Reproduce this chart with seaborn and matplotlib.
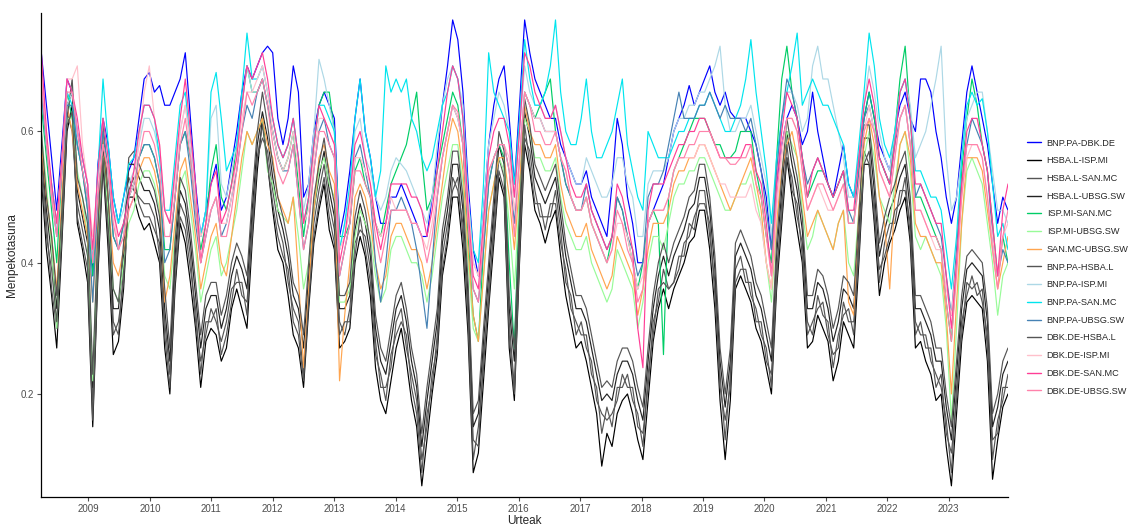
import numpy as np
import pandas as pd
import matplotlib
matplotlib.use("Agg")
import matplotlib.pyplot as plt
import seaborn as sns

# ---- data: monthly dependence values, Apr 2008 .. Dec 2023 (189 points) ----
start_date = "2008-03-27"
end_date = "2023-12-19"

bnp_dbk = [.72,.64,.56,.48,.58,.68,.66,.60,.56,
 .52,.38,.55,.62,.58,.50,.46,.50,.54,.56,.62,.68,
 .69,.66,.67,.64,.64,.66,.68,.72,.62,.52,.44,.48,
 .52,.55,.48,.50,.55,.60,.66,.70,.68,.70,.72,.73,
 .72,.62,.58,.62,.70,.66,.50,.52,.60,.64,.66,.64,
 .62,.44,.48,.54,.62,.68,.60,.56,.50,.46,.46,.50,
 .50,.52,.50,.48,.46,.44,.44,.50,.56,.64,.70,.77,
 .74,.66,.52,.42,.38,.48,.58,.64,.68,.70,.62,.52,
 .64,.77,.72,.68,.66,.64,.62,.62,.58,.56,.54,.52,
 .52,.54,.50,.48,.46,.44,.52,.62,.58,.50,.46,.40,
 .40,.46,.48,.50,.52,.56,.60,.62,.64,.67,.64,.66,
 .68,.70,.66,.64,.66,.63,.62,.62,.62,.60,.58,.54,
 .50,.42,.52,.58,.62,.64,.62,.58,.60,.66,.60,.56,
 .52,.50,.54,.58,.52,.50,.56,.62,.66,.62,.58,.56,
 .54,.60,.64,.66,.62,.60,.68,.68,.66,.60,.56,.50,
 .46,.50,.58,.66,.70,.66,.62,.58,.52,.46,.50,.48]

hsba_isp = [.53,.42,.35,.27,.43,.60,.64,.46,.42,
 .37,.15,.38,.55,.42,.26,.28,.36,.50,.50,.47,.45,
 .46,.43,.40,.27,.20,.36,.46,.43,.37,.30,.21,.28,
 .30,.29,.25,.27,.33,.36,.33,.30,.43,.54,.62,.55,
 .48,.42,.40,.35,.29,.27,.21,.33,.43,.48,.52,.45,
 .42,.27,.28,.30,.40,.44,.41,.35,.24,.19,.17,.22,
 .27,.30,.25,.19,.15,.06,.13,.20,.26,.38,.43,.50,
 .50,.42,.29,.08,.11,.22,.33,.43,.53,.50,.27,.19,
 .40,.58,.54,.48,.46,.43,.46,.48,.41,.35,.31,.27,
 .28,.25,.21,.17,.09,.14,.12,.17,.19,.20,.17,.13,
 .10,.19,.28,.33,.36,.33,.36,.38,.40,.43,.44,.48,
 .48,.42,.33,.19,.10,.19,.36,.38,.36,.34,.30,.28,
 .24,.20,.36,.46,.56,.50,.45,.40,.27,.28,.32,.30,
 .28,.22,.25,.31,.29,.27,.40,.55,.55,.46,.35,.40,
 .43,.45,.48,.50,.43,.27,.28,.25,.23,.19,.20,.12,
 .06,.17,.28,.34,.35,.34,.33,.25,.07,.13,.18,.20]

hsba_san = [.56,.46,.36,.30,.46,.63,.60,.49,.45,
 .41,.19,.42,.58,.46,.31,.29,.39,.53,.51,.50,.49,
 .49,.47,.41,.31,.23,.39,.49,.47,.41,.31,.25,.29,
 .33,.31,.28,.31,.36,.37,.37,.32,.46,.56,.59,.57,
 .51,.46,.43,.37,.33,.31,.23,.36,.46,.51,.55,.49,
 .45,.31,.29,.33,.43,.45,.44,.39,.28,.21,.21,.24,
 .31,.33,.27,.23,.19,.10,.15,.23,.27,.41,.46,.51,
 .53,.44,.33,.13,.12,.26,.34,.46,.56,.53,.31,.21,
 .43,.59,.57,.51,.47,.47,.47,.51,.45,.37,.35,.29,
 .31,.27,.25,.19,.17,.16,.17,.19,.23,.21,.21,.15,
 .14,.21,.31,.34,.39,.36,.37,.41,.41,.46,.45,.51,
 .51,.44,.37,.21,.16,.21,.39,.41,.37,.37,.31,.31,
 .25,.23,.37,.49,.56,.53,.47,.43,.29,.31,.33,.34,
 .29,.26,.27,.34,.31,.31,.41,.57,.55,.49,.37,.43,
 .46,.46,.51,.51,.46,.29,.31,.27,.27,.21,.23,.14,
 .11,.19,.31,.35,.38,.35,.36,.27,.13,.14,.21,.21]

hsba_ubsg = [.58,.48,.41,.33,.47,.64,.66,.51,.47,
 .43,.21,.43,.60,.48,.33,.33,.41,.55,.55,.53,.51,
 .51,.49,.45,.33,.25,.41,.51,.49,.43,.35,.27,.33,
 .35,.35,.30,.33,.38,.41,.39,.36,.48,.58,.63,.59,
 .53,.48,.45,.41,.35,.33,.27,.38,.48,.53,.57,.51,
 .47,.33,.33,.35,.45,.49,.46,.41,.30,.25,.23,.28,
 .33,.35,.31,.25,.21,.12,.19,.25,.31,.43,.48,.55,
 .55,.48,.35,.15,.17,.28,.38,.48,.58,.55,.33,.25,
 .45,.63,.59,.53,.51,.49,.51,.53,.47,.41,.37,.33,
 .33,.31,.27,.23,.19,.20,.19,.23,.25,.25,.23,.19,
 .16,.25,.33,.38,.41,.38,.41,.43,.45,.48,.49,.53,
 .53,.48,.39,.25,.18,.25,.41,.43,.41,.39,.35,.33,
 .29,.25,.41,.51,.60,.55,.51,.45,.33,.33,.37,.36,
 .33,.28,.31,.36,.35,.33,.45,.59,.59,.51,.41,.45,
 .48,.50,.53,.55,.48,.33,.33,.31,.29,.25,.25,.18,
 .13,.23,.33,.39,.40,.39,.38,.31,.15,.18,.23,.25]

isp_san = [.64,.56,.48,.40,.54,.66,.62,.58,.54,
 .48,.38,.50,.60,.54,.44,.42,.46,.50,.52,.56,.58,
 .58,.56,.52,.42,.42,.50,.58,.60,.56,.48,.42,.46,
 .54,.58,.50,.48,.52,.58,.64,.70,.66,.66,.68,.64,
 .60,.56,.54,.56,.60,.52,.44,.50,.58,.64,.66,.66,
 .60,.44,.44,.46,.54,.56,.52,.50,.46,.44,.48,.52,
 .54,.56,.58,.62,.66,.56,.48,.50,.54,.58,.62,.66,
 .64,.58,.44,.32,.28,.42,.52,.56,.58,.56,.40,.27,
 .50,.66,.64,.62,.64,.66,.68,.60,.56,.52,.50,.48,
 .48,.50,.46,.44,.42,.40,.44,.50,.48,.44,.40,.36,
 .40,.46,.48,.46,.26,.50,.54,.56,.58,.60,.62,.62,
 .62,.60,.58,.58,.56,.56,.57,.60,.60,.60,.54,.50,
 .44,.40,.56,.68,.73,.66,.62,.56,.50,.52,.54,.54,
 .52,.50,.52,.54,.46,.46,.54,.62,.66,.62,.56,.54,
 .52,.60,.68,.73,.62,.50,.50,.48,.46,.44,.42,.34,
 .28,.40,.54,.62,.68,.64,.58,.54,.46,.38,.44,.40]

isp_ubsg = [.60,.52,.42,.30,.48,.62,.62,.54,.50,
 .44,.22,.44,.56,.48,.36,.34,.40,.46,.48,.52,.54,
 .54,.52,.48,.38,.36,.44,.52,.54,.48,.42,.34,.38,
 .42,.44,.38,.40,.44,.48,.54,.60,.58,.60,.62,.54,
 .52,.48,.47,.46,.50,.44,.36,.40,.48,.54,.56,.52,
 .50,.34,.34,.36,.44,.48,.46,.44,.38,.34,.36,.42,
 .44,.44,.42,.40,.40,.38,.34,.38,.44,.50,.54,.58,
 .58,.52,.40,.30,.28,.38,.48,.52,.56,.54,.46,.36,
 .50,.62,.60,.56,.56,.54,.54,.56,.50,.46,.44,.42,
 .42,.44,.40,.38,.36,.34,.36,.42,.40,.38,.36,.30,
 .34,.40,.44,.44,.42,.46,.50,.52,.52,.54,.54,.56,
 .56,.54,.52,.50,.48,.48,.50,.52,.52,.54,.50,.46,
 .40,.34,.46,.54,.60,.58,.56,.48,.42,.44,.48,.46,
 .44,.42,.46,.48,.40,.38,.48,.56,.60,.56,.50,.48,
 .46,.52,.58,.60,.54,.44,.42,.44,.42,.40,.38,.30,
 .16,.30,.46,.54,.56,.54,.52,.46,.40,.32,.38,.40]

san_ubsg = [.58,.50,.44,.36,.50,.64,.60,.52,.48,
 .44,.34,.46,.60,.50,.40,.38,.42,.48,.50,.54,.56,
 .56,.54,.50,.34,.38,.46,.54,.56,.50,.44,.36,.40,
 .44,.46,.40,.38,.44,.50,.56,.60,.58,.60,.62,.58,
 .56,.50,.48,.46,.50,.38,.24,.36,.48,.56,.58,.54,
 .52,.22,.32,.40,.50,.52,.50,.46,.40,.36,.38,.44,
 .46,.46,.44,.42,.42,.40,.36,.40,.46,.52,.58,.62,
 .60,.54,.42,.32,.28,.38,.48,.52,.56,.56,.50,.42,
 .52,.64,.60,.58,.58,.56,.56,.58,.52,.48,.46,.44,
 .44,.46,.42,.40,.38,.36,.38,.44,.42,.40,.38,.32,
 .36,.42,.46,.46,.46,.48,.52,.54,.54,.56,.56,.58,
 .58,.56,.54,.52,.50,.48,.50,.52,.54,.56,.52,.48,
 .40,.36,.46,.54,.58,.60,.56,.50,.44,.46,.48,.46,
 .44,.42,.46,.48,.34,.32,.48,.58,.62,.58,.50,.46,
 .36,.50,.58,.60,.56,.46,.44,.44,.42,.40,.40,.32,
 .20,.34,.46,.56,.56,.56,.54,.48,.42,.36,.40,.44]

bnp_hsba = [.60,.50,.44,.35,.48,.62,.68,.53,.50,
 .46,.23,.45,.62,.50,.36,.34,.43,.56,.57,.55,.53,
 .53,.51,.47,.36,.27,.43,.53,.51,.45,.37,.29,.35,
 .37,.37,.32,.35,.40,.43,.41,.38,.50,.60,.66,.61,
 .55,.50,.47,.43,.37,.35,.29,.40,.50,.55,.59,.53,
 .49,.35,.35,.37,.47,.51,.48,.43,.32,.27,.25,.30,
 .35,.37,.33,.27,.23,.14,.21,.27,.33,.45,.50,.57,
 .57,.50,.37,.17,.19,.30,.40,.50,.60,.57,.35,.27,
 .47,.65,.61,.55,.53,.51,.53,.55,.49,.43,.39,.35,
 .35,.33,.29,.25,.21,.22,.21,.25,.27,.27,.25,.21,
 .18,.27,.35,.40,.43,.40,.43,.45,.47,.50,.51,.55,
 .55,.50,.41,.27,.20,.27,.43,.45,.43,.41,.37,.35,
 .31,.27,.43,.53,.62,.57,.53,.47,.35,.35,.39,.38,
 .35,.30,.33,.38,.37,.35,.47,.61,.61,.53,.43,.47,
 .50,.52,.55,.57,.50,.35,.35,.33,.31,.27,.27,.20,
 .15,.25,.35,.41,.42,.41,.40,.33,.17,.20,.25,.27]

bnp_isp = [.66,.58,.52,.45,.54,.64,.66,.60,.56,
 .52,.40,.52,.62,.56,.48,.46,.48,.52,.54,.58,.62,
 .62,.60,.56,.48,.46,.54,.60,.64,.58,.50,.44,.48,
 .62,.64,.52,.50,.54,.58,.64,.70,.66,.66,.68,.64,
 .62,.58,.56,.58,.62,.56,.48,.52,.60,.71,.68,.64,
 .60,.42,.46,.50,.60,.62,.56,.54,.50,.48,.50,.54,
 .56,.55,.54,.52,.50,.48,.46,.50,.58,.64,.68,.70,
 .68,.64,.50,.40,.38,.48,.58,.62,.66,.64,.60,.50,
 .60,.70,.66,.64,.64,.62,.62,.64,.60,.56,.54,.52,
 .52,.56,.54,.52,.50,.50,.52,.56,.56,.52,.50,.44,
 .44,.52,.54,.54,.54,.56,.60,.62,.62,.64,.64,.66,
 .66,.68,.70,.73,.64,.60,.60,.62,.62,.64,.60,.56,
 .52,.44,.54,.62,.66,.66,.64,.60,.62,.70,.73,.68,
 .68,.64,.60,.56,.50,.50,.56,.64,.70,.66,.60,.56,
 .54,.60,.66,.68,.64,.56,.58,.60,.64,.68,.73,.56,
 .48,.50,.56,.62,.64,.66,.66,.60,.54,.48,.48,.46]

bnp_san = [.66,.58,.52,.46,.56,.66,.64,.58,.54,
 .50,.40,.54,.68,.58,.50,.46,.50,.55,.56,.60,.64,
 .64,.62,.56,.48,.48,.56,.64,.66,.58,.50,.44,.48,
 .66,.69,.62,.54,.56,.58,.66,.75,.68,.68,.70,.66,
 .62,.58,.56,.58,.62,.56,.46,.50,.58,.64,.64,.62,
 .60,.42,.46,.52,.62,.68,.60,.56,.50,.54,.70,.66,
 .68,.66,.68,.62,.60,.56,.54,.56,.60,.64,.66,.70,
 .68,.62,.50,.42,.40,.52,.72,.66,.64,.62,.60,.52,
 .62,.74,.68,.64,.64,.66,.70,.77,.66,.60,.58,.58,
 .62,.68,.60,.56,.56,.58,.60,.64,.68,.58,.54,.50,
 .48,.60,.58,.56,.56,.56,.58,.60,.60,.62,.62,.64,
 .64,.66,.64,.62,.60,.60,.62,.64,.68,.74,.66,.60,
 .54,.46,.56,.62,.66,.70,.75,.64,.66,.68,.66,.64,
 .64,.62,.60,.58,.52,.50,.58,.66,.75,.70,.62,.58,
 .56,.60,.66,.68,.62,.54,.54,.52,.50,.50,.48,.42,
 .36,.44,.56,.64,.66,.64,.65,.60,.52,.44,.46,.42]

bnp_ubsg = [.66,.58,.50,.44,.54,.64,.64,.58,.54,
 .48,.34,.50,.60,.54,.44,.42,.46,.50,.52,.56,.58,
 .58,.56,.52,.40,.42,.50,.58,.60,.54,.46,.40,.44,
 .48,.50,.44,.46,.50,.54,.60,.64,.62,.66,.68,.64,
 .60,.56,.54,.54,.58,.50,.42,.46,.54,.60,.62,.58,
 .56,.38,.42,.46,.56,.58,.54,.50,.40,.34,.40,.48,
 .48,.50,.48,.46,.42,.36,.30,.40,.50,.56,.60,.64,
 .62,.58,.46,.36,.34,.42,.52,.56,.58,.58,.54,.46,
 .56,.66,.64,.62,.62,.60,.60,.60,.56,.52,.50,.48,
 .48,.52,.48,.46,.44,.42,.44,.50,.48,.44,.42,.38,
 .40,.50,.52,.52,.54,.58,.62,.66,.62,.62,.62,.64,
 .64,.66,.64,.62,.64,.62,.62,.62,.60,.62,.58,.54,
 .48,.42,.54,.62,.68,.66,.62,.56,.52,.54,.56,.54,
 .52,.50,.52,.54,.48,.46,.54,.62,.64,.60,.56,.54,
 .52,.58,.62,.64,.58,.50,.52,.50,.48,.46,.44,.38,
 .32,.42,.52,.58,.62,.60,.58,.54,.44,.38,.42,.40]

dbk_hsba = [.54,.44,.39,.31,.44,.61,.63,.47,.43,
 .39,.16,.39,.56,.44,.29,.31,.37,.51,.53,.49,.47,
 .47,.45,.43,.29,.21,.37,.47,.45,.39,.33,.23,.31,
 .31,.33,.26,.29,.34,.39,.35,.34,.44,.56,.61,.55,
 .49,.44,.41,.39,.31,.29,.22,.34,.44,.49,.53,.47,
 .43,.29,.31,.31,.41,.47,.42,.37,.26,.23,.19,.26,
 .29,.31,.29,.21,.17,.08,.17,.21,.29,.39,.44,.53,
 .51,.46,.31,.10,.15,.24,.36,.44,.54,.51,.29,.20,
 .41,.61,.55,.49,.49,.45,.49,.49,.43,.39,.33,.31,
 .29,.29,.23,.21,.14,.18,.15,.21,.21,.23,.19,.17,
 .12,.23,.29,.36,.37,.36,.37,.39,.43,.44,.47,.49,
 .49,.46,.35,.23,.13,.23,.37,.39,.39,.35,.33,.29,
 .27,.21,.39,.47,.58,.51,.49,.41,.31,.29,.35,.32,
 .31,.24,.29,.32,.33,.29,.43,.55,.57,.47,.39,.41,
 .44,.48,.49,.53,.44,.31,.29,.29,.25,.23,.21,.16,
 .08,.21,.29,.37,.36,.37,.34,.29,.10,.16,.19,.23]

dbk_isp = [.70,.60,.50,.46,.56,.68,.68,.70,.58,
 .52,.44,.52,.58,.54,.48,.42,.44,.50,.52,.58,.66,
 .70,.62,.58,.48,.46,.52,.60,.64,.58,.50,.44,.46,
 .48,.50,.46,.46,.50,.56,.62,.66,.66,.68,.70,.66,
 .60,.56,.54,.56,.60,.54,.46,.48,.56,.62,.62,.60,
 .58,.42,.44,.48,.56,.56,.54,.52,.46,.44,.46,.50,
 .48,.48,.48,.46,.46,.44,.42,.46,.52,.56,.60,.64,
 .62,.58,.50,.40,.38,.46,.54,.56,.58,.58,.56,.48,
 .56,.66,.64,.62,.62,.60,.60,.60,.56,.54,.50,.48,
 .48,.50,.46,.44,.42,.40,.42,.46,.46,.44,.40,.36,
 .38,.46,.48,.48,.48,.50,.54,.56,.56,.56,.56,.58,
 .58,.56,.54,.52,.52,.50,.50,.50,.50,.52,.48,.46,
 .40,.36,.48,.56,.62,.62,.60,.54,.48,.50,.52,.50,
 .48,.48,.50,.52,.46,.46,.52,.60,.64,.60,.54,.52,
 .50,.56,.62,.64,.58,.48,.48,.46,.44,.42,.42,.36,
 .32,.40,.50,.56,.58,.58,.56,.50,.44,.38,.44,.46]

dbk_san = [.72,.60,.52,.46,.56,.68,.66,.62,.56,
 .52,.42,.54,.62,.56,.48,.44,.46,.50,.54,.60,.64,
 .64,.62,.58,.48,.46,.54,.62,.68,.60,.52,.40,.46,
 .52,.54,.46,.48,.52,.56,.64,.70,.68,.70,.72,.68,
 .62,.58,.56,.58,.62,.56,.46,.50,.58,.64,.62,.60,
 .58,.40,.44,.50,.58,.60,.56,.52,.46,.42,.46,.52,
 .52,.52,.52,.50,.50,.48,.44,.48,.54,.60,.66,.70,
 .68,.62,.48,.38,.36,.46,.56,.60,.62,.62,.58,.50,
 .60,.72,.70,.66,.64,.62,.62,.64,.60,.56,.52,.50,
 .50,.52,.48,.46,.44,.42,.44,.52,.50,.46,.42,.30,
 .24,.48,.52,.52,.52,.54,.56,.58,.58,.60,.60,.62,
 .62,.60,.58,.56,.56,.56,.56,.56,.58,.58,.54,.52,
 .46,.38,.52,.60,.66,.64,.62,.56,.50,.54,.56,.54,
 .52,.50,.52,.54,.48,.48,.56,.64,.68,.64,.56,.54,
 .52,.58,.66,.68,.62,.52,.52,.50,.48,.46,.46,.38,
 .30,.40,.52,.60,.62,.62,.58,.54,.46,.38,.48,.52]

dbk_ubsg = [.68,.58,.50,.44,.54,.66,.66,.60,.54,
 .50,.40,.50,.58,.54,.46,.42,.44,.48,.50,.56,.60,
 .60,.58,.54,.44,.44,.50,.58,.62,.56,.48,.40,.44,
 .48,.50,.44,.44,.48,.54,.60,.66,.64,.66,.68,.64,
 .58,.54,.52,.54,.58,.50,.42,.46,.54,.60,.60,.58,
 .56,.38,.42,.46,.54,.54,.52,.50,.44,.40,.44,.48,
 .48,.48,.48,.46,.46,.44,.40,.44,.50,.56,.60,.64,
 .63,.58,.46,.36,.34,.44,.54,.56,.58,.58,.54,.44,
 .56,.66,.64,.60,.60,.58,.58,.60,.56,.54,.50,.48,
 .48,.50,.46,.44,.42,.40,.42,.48,.46,.42,.40,.34,
 .36,.46,.48,.48,.48,.50,.54,.56,.56,.58,.58,.60,
 .60,.60,.58,.56,.56,.55,.55,.56,.56,.58,.52,.50,
 .44,.38,.50,.58,.62,.62,.60,.54,.48,.50,.52,.52,
 .50,.48,.50,.52,.46,.46,.52,.60,.62,.60,.54,.52,
 .50,.56,.62,.64,.58,.48,.48,.46,.44,.44,.42,.34,
 .28,.38,.50,.58,.58,.58,.56,.50,.42,.36,.44,.48]

pair_names = ["BNP.PA-DBK.DE", "HSBA.L-ISP.MI", "HSBA.L-SAN.MC", "HSBA.L-UBSG.SW",
              "ISP.MI-SAN.MC", "ISP.MI-UBSG.SW", "SAN.MC-UBSG.SW", "BNP.PA-HSBA.L",
              "BNP.PA-ISP.MI", "BNP.PA-SAN.MC", "BNP.PA-UBSG.SW", "DBK.DE-HSBA.L",
              "DBK.DE-ISP.MI", "DBK.DE-SAN.MC", "DBK.DE-UBSG.SW"]
pair_values = [bnp_dbk, hsba_isp, hsba_san, hsba_ubsg, isp_san, isp_ubsg, san_ubsg,
               bnp_hsba, bnp_isp, bnp_san, bnp_ubsg, dbk_hsba, dbk_isp, dbk_san, dbk_ubsg]
pair_colors = ["#0000FF", "#000000", "#555555", "#222222", "#00CD66", "#98FB98",
               "#FFA54F", "#555555", "#ADD8E6", "#00E5EE", "#4682B4", "#555555",
               "#FFC0CB", "#FF3E96", "#FF82AB"]

n = len(bnp_dbk)
for v in pair_values:
    assert len(v) == n, len(v)
dates = pd.date_range(start_date, end_date, periods=n)

df = pd.concat([pd.DataFrame({"Urteak": dates, "Menpekotasuna": v, "pair": name})
                for name, v in zip(pair_names, pair_values)], ignore_index=True)
df["pair"] = pd.Categorical(df["pair"], categories=pair_names, ordered=True)

sns.set_style("ticks")
plt.rcParams["font.family"] = ["Liberation Sans", "DejaVu Sans"]

fig = plt.figure(figsize=(11.29, 5.30), dpi=100)
ax = fig.add_axes([0.0366, 0.0623, 0.8562, 0.9137])

sns.lineplot(data=df, x="Urteak", y="Menpekotasuna", hue="pair",
             hue_order=pair_names, palette=dict(zip(pair_names, pair_colors)),
             estimator=None, linewidth=0.85, ax=ax, legend=True)

ax.set_xlim(pd.Timestamp(start_date), pd.Timestamp(end_date))
ax.set_ylim(0.043, 0.781)
ax.set_yticks([0.2, 0.4, 0.6])
ax.set_yticklabels(["0.2", "0.4", "0.6"])
years = list(range(2009, 2024))
ax.set_xticks([pd.Timestamp(f"{y}-01-01") for y in years])
ax.set_xticklabels([str(y) for y in years])
ax.tick_params(axis="both", labelsize=7, colors="#4D4D4D", length=3, width=0.8,
               labelcolor="#4D4D4D", pad=2)
for s in ["top", "right"]:
    ax.spines[s].set_visible(False)
for s in ["left", "bottom"]:
    ax.spines[s].set_color("black")
    ax.spines[s].set_linewidth(0.9)
ax.set_xlabel("Urteak", fontsize=8.5, labelpad=1)
ax.set_ylabel("Menpekotasuna", fontsize=8.5, labelpad=2)

handles, labels = ax.get_legend_handles_labels()
ax.get_legend().remove()
leg = fig.legend(handles, labels, loc="center left", bbox_to_anchor=(0.910, 0.496),
                 frameon=False, fontsize=6.6, handlelength=1.5, handletextpad=0.6,
                 labelspacing=0.95, borderaxespad=0, borderpad=0)
for h in leg.get_lines():
    h.set_linewidth(1.0)

fig.savefig("out.png", dpi=100)
